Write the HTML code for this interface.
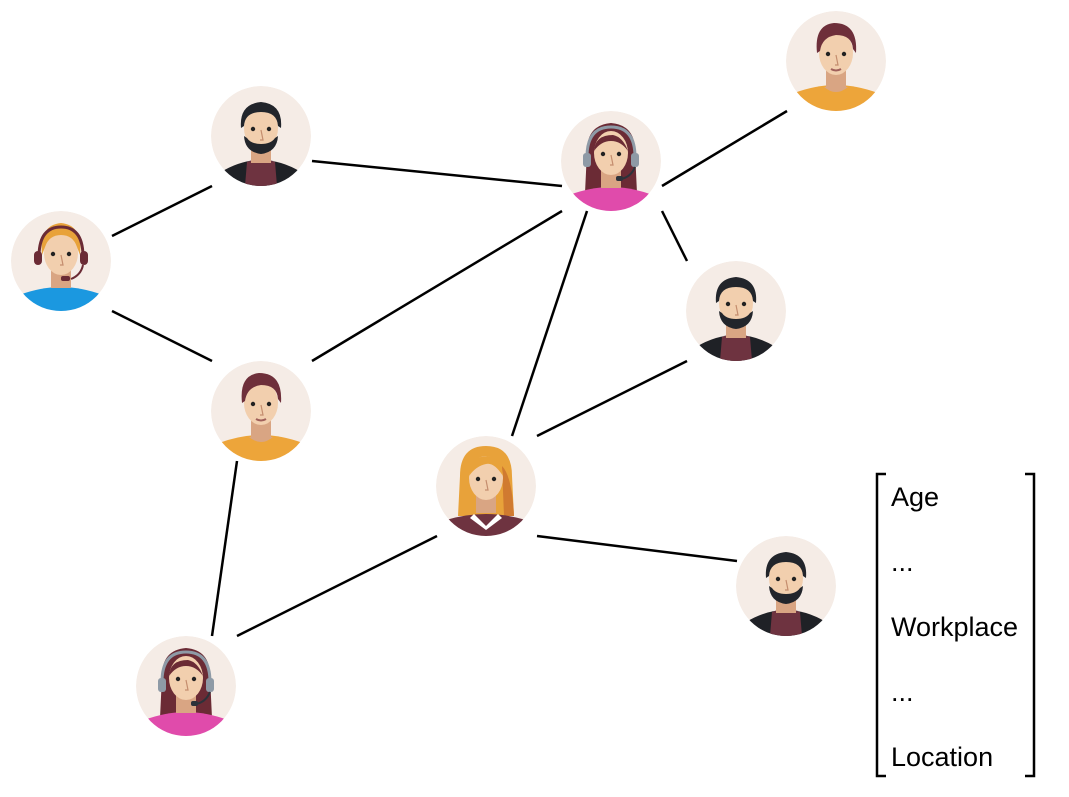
<!DOCTYPE html>
<html><head><meta charset="utf-8"><style>
html,body{margin:0;padding:0;background:#fff;}
svg{display:block;}
text{font-family:"Liberation Sans",sans-serif;font-size:27px;fill:#000;}
</style></head><body>
<svg width="1069" height="797" viewBox="0 0 1069 797" xmlns="http://www.w3.org/2000/svg">
<defs>
<clipPath id="c"><circle cx="50" cy="50" r="50"/></clipPath>
<g id="face">
  <rect x="40" y="55" width="20" height="22" fill="#d9a583"/>
  <ellipse cx="50" cy="42" rx="17" ry="22" fill="#f2cfae"/>
  <circle cx="42" cy="43" r="2.2" fill="#222"/>
  <circle cx="58" cy="43" r="2.2" fill="#222"/>
  <path d="M50 44 L52 54 L49 54" stroke="#c48d6e" stroke-width="1.2" fill="none"/>
</g>
<g id="beard" clip-path="url(#c)">
  <circle cx="50" cy="50" r="50" fill="#f5ece6"/>
  <path d="M0 100 L10 86 Q30 74 50 74 Q70 74 90 86 L100 100Z" fill="#1f2126"/>
  <path d="M36 76 Q50 70 64 76 L66 100 L34 100Z" fill="#6e3340"/>
  <use href="#face"/>
  <path d="M30 42 Q28 18 50 16 Q72 18 70 42 L67 40 Q66 26 50 26 Q34 26 33 40Z" fill="#22252b"/>
  <path d="M33 50 Q34 66 50 68 Q66 66 67 50 L64 52 Q60 58 50 58 Q40 58 36 52Z" fill="#22252b"/>
</g>
<g id="oman" clip-path="url(#c)">
  <circle cx="50" cy="50" r="50" fill="#f5ece6"/>
  <path d="M0 100 L8 82 Q30 74 50 74 Q70 74 92 82 L100 100Z" fill="#eda53a"/>
  <path d="M38 76 Q50 86 62 76" fill="#d9a583"/>
  <use href="#face"/>
  <path d="M31 42 Q28 14 48 12 Q72 12 70 42 L67 38 Q66 24 50 24 Q36 26 34 40Z" fill="#6e2f3a"/>
  <path d="M45 58 Q50 61 55 58" stroke="#a0605a" stroke-width="2" fill="none"/>
</g>
<g id="hwoman" clip-path="url(#c)">
  <circle cx="50" cy="50" r="50" fill="#f5ece6"/>
  <path d="M26 40 Q26 14 50 12 Q74 14 74 40 L76 82 L24 82Z" fill="#6b2b35"/>
  <path d="M0 100 L8 84 Q30 76 50 76 Q70 76 92 84 L100 100Z" fill="#e04bab"/>
  <use href="#face"/>
  <path d="M33 40 Q34 24 52 24 Q62 26 67 40 Q60 30 50 30 Q40 30 33 40Z" fill="#6b2b35"/>
  <path d="M26 46 Q26 16 50 16 Q74 16 74 46" stroke="#8e9aa6" stroke-width="3" fill="none"/>
  <rect x="22" y="42" width="8" height="14" rx="3" fill="#8e9aa6"/>
  <rect x="70" y="42" width="8" height="14" rx="3" fill="#8e9aa6"/>
  <path d="M74 56 Q70 66 60 68" stroke="#2c323a" stroke-width="2" fill="none"/>
  <rect x="55" y="65" width="7" height="5" rx="2" fill="#2c323a"/>
</g>
<g id="bhead" clip-path="url(#c)">
  <circle cx="50" cy="50" r="50" fill="#f5ece6"/>
  <path d="M0 100 L8 84 Q30 76 50 76 Q70 76 92 84 L100 100Z" fill="#1b98e0"/>
  <use href="#face"/>
  <path d="M31 44 Q28 14 50 12 Q72 14 69 44 L66 36 Q62 24 50 24 Q38 24 34 36Z" fill="#e8a23a"/>
  <path d="M28 46 Q28 16 50 16 Q72 16 72 46" stroke="#6b2b35" stroke-width="3" fill="none"/>
  <rect x="23" y="40" width="8" height="14" rx="4" fill="#6b2b35"/>
  <rect x="69" y="40" width="8" height="14" rx="4" fill="#6b2b35"/>
  <path d="M72 54 Q70 64 60 68" stroke="#6b2b35" stroke-width="2" fill="none"/>
  <rect x="50" y="65" width="9" height="5" rx="2" fill="#6b2b35"/>
</g>
<g id="bwoman" clip-path="url(#c)">
  <circle cx="50" cy="50" r="50" fill="#f5ece6"/>
  <path d="M24 40 Q24 10 50 10 Q76 10 76 40 L78 80 L22 80Z" fill="#e8a23a"/>
  <path d="M66 30 Q76 40 78 80 L68 80Z" fill="#d07a30"/>
  <path d="M0 100 L10 84 Q30 78 50 78 Q70 78 90 84 L100 100Z" fill="#6e3340"/>
  <path d="M38 78 L50 90 L62 78 L66 82 L50 94 L34 82Z" fill="#fff"/>
  <use href="#face"/>
  <path d="M33 40 Q34 20 52 20 Q66 22 67 40 Q58 26 50 28 Q40 30 33 40Z" fill="#e8a23a"/>
</g>
</defs>
<g stroke="#000" stroke-width="2.5" fill="none">
<line x1="112" y1="236" x2="212" y2="186"/>
<line x1="312" y1="161" x2="562" y2="186"/>
<line x1="662" y1="186" x2="787" y2="111"/>
<line x1="662" y1="211" x2="687" y2="261"/>
<line x1="562" y1="211" x2="312" y2="361"/>
<line x1="587" y1="211" x2="512" y2="436"/>
<line x1="112" y1="311" x2="212" y2="361"/>
<line x1="687" y1="361" x2="537" y2="436"/>
<line x1="237" y1="461" x2="212" y2="636"/>
<line x1="437" y1="536" x2="237" y2="636"/>
<line x1="537" y1="536" x2="737" y2="561"/>
<path d="M886 474 L877 474 L877 776 L886 776"/>
<path d="M1025 474 L1034 474 L1034 776 L1025 776"/>
</g>
<use href="#beard" x="211" y="86"/>
<use href="#hwoman" x="561" y="111"/>
<use href="#oman" x="786" y="11"/>
<use href="#bhead" x="11" y="211"/>
<use href="#beard" x="686" y="261"/>
<use href="#oman" x="211" y="361"/>
<use href="#bwoman" x="436" y="436"/>
<use href="#beard" x="736" y="536"/>
<use href="#hwoman" x="136" y="636"/>
<text x="891" y="506">Age</text>
<text x="891" y="571">...</text>
<text x="891" y="636">Workplace</text>
<text x="891" y="701">...</text>
<text x="891" y="766">Location</text>
</svg>
</body></html>
